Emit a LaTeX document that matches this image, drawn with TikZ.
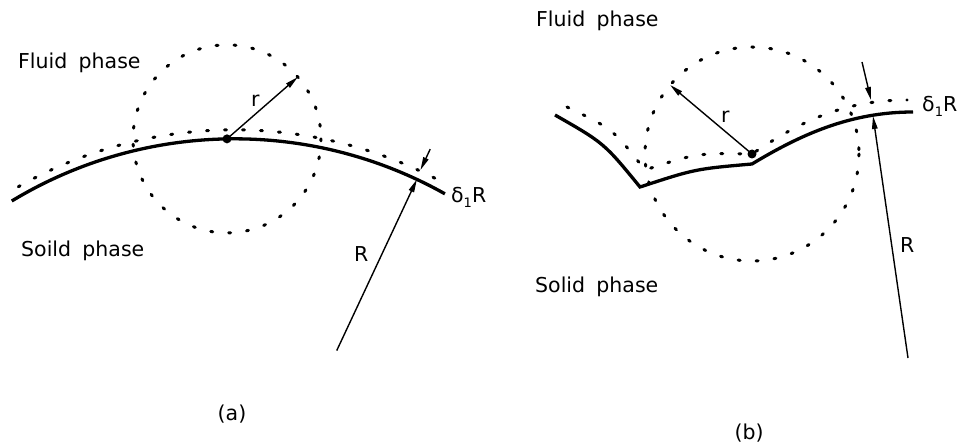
\documentclass[tikz,border=0pt]{standalone}
\usepackage{fontspec}
\setmainfont{DejaVu Sans}
\usetikzlibrary{arrows.meta,calc}
\newcommand{\dR}{δ\raisebox{-5pt}{\fontsize{13}{13}\selectfont 1}R}
\begin{document}
\begin{tikzpicture}[x=1pt,y=-1pt,
  surface/.style={line width=3.3pt,line join=miter},
  offsetline/.style={line width=3pt,line cap=round,dash pattern=on 2pt off 16pt},
  ptr/.style={line width=1.4pt,-{Triangle[length=13pt,width=5.5pt]}},
  lbl/.style={font=\fontsize{20.5}{22}\selectfont,inner sep=0pt,anchor=base west},
  captxt/.style={font=\fontsize{20.5}{22}\selectfont,inner sep=0pt},
]
\useasboundingbox (0,0) rectangle (958,443);

% ---------------- panel (a) ----------------
\coordinate (Cl) at (234.5,568.8);
\coordinate (A0) at ($(Cl)+(-121.2:430)$);
\coordinate (D0) at ($(Cl)+(-119.5:439)$);
\coordinate (dl) at ($(Cl)+(-91:430)$);
\coordinate (rtipA) at ($(dl)+(-41.1:94)$);
\coordinate (RbaseA) at ($(Cl)+(-64.9:241)$);
\coordinate (RtipA) at ($(Cl)+(-64.9:430)$);
\coordinate (dtopA) at ($(Cl)+(-65:463)$);
\coordinate (dtipA) at ($(Cl)+(-65:440)$);

\draw[surface] (A0) arc[start angle=-121.2,end angle=-60.7,radius=430];
\draw[offsetline] (D0) arc[start angle=-119.5,end angle=-62.5,radius=439];
\draw[offsetline] (dl) circle[radius=94];
\fill (dl) circle[radius=4.5];
\draw[ptr] (dl) -- (rtipA);
\draw[ptr] (RbaseA) -- (RtipA);
\draw[ptr] (dtopA) -- (dtipA);

\node[lbl] (fluidA) at (18,69) {Fluid\hspace{0.55em}phase};
\node[lbl] (soildA) at (21,257) {Soild\hspace{0.55em}phase};
\node[lbl] (rA) at (251,107) {r};
\node[lbl] (RA) at (354,262) {R};
\node[lbl] (dA) at (451,203) {\dR};
\node[captxt] (capA) at (232,414) {(a)};

% ---------------- panel (b) ----------------
\coordinate (L0) at (555,115);
\coordinate (K1) at (640,187);
\coordinate (K2) at (752,164);
\coordinate (E) at (913,112);
\coordinate (P0) at (567,107);
\coordinate (P1) at (645,170);
\coordinate (db) at (752,154);
\coordinate (P2) at (907,100);
\coordinate (rtipB) at ($(db)+(-139.9:107)$);
\coordinate (RbaseB) at (908,358);
\coordinate (RtipB) at (873,116);
\coordinate (dtopB) at (862,62);
\coordinate (dtipB) at (871,100);

\draw[surface] (L0) .. controls (604,143) .. (K1)
               .. controls (695,169) .. (K2)
               .. controls (800,135) and (850,112) .. (E);
\draw[offsetline] (P0) .. controls (613,129) .. (P1)
                  .. controls (697,153) .. (db)
                  .. controls (795,125) and (840,100) .. (P2);
\draw[offsetline] (db) circle[radius=107];
\fill (db) circle[radius=4.5];
\draw[ptr] (db) -- (rtipB);
\draw[ptr] (RbaseB) -- (RtipB);
\draw[ptr] (dtopB) -- (dtipB);

\node[lbl] (fluidB) at (536,27) {Fluid\hspace{0.55em}phase};
\node[lbl] (solidB) at (535,293) {Solid\hspace{0.55em}phase};
\node[lbl] (rB) at (721,123) {r};
\node[lbl] (RB) at (900,253) {R};
\node[lbl] (dB) at (922,112) {\dR};
\node[captxt] (capB) at (749,433) {(b)};
\end{tikzpicture}
\end{document}
